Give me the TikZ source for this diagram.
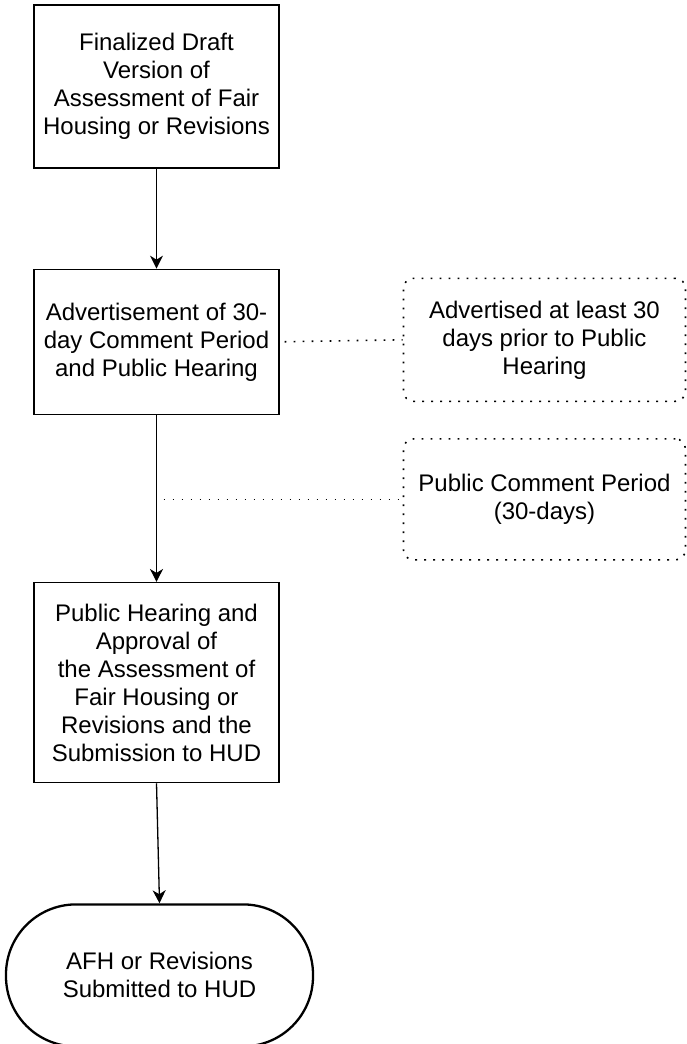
\documentclass[tikz,border=0pt]{standalone}
\usepackage{fontspec}
\setmainfont{Liberation Sans}
\usetikzlibrary{positioning,arrows.meta}

\begin{document}
\begin{tikzpicture}[x=0.5pt,y=0.5pt,
        font=\fontsize{12}{14}\selectfont,
        stepbox/.style={draw,line width=0.65pt,align=center,minimum width=122.5pt,inner sep=0pt},
        notebox/.style={draw,line width=0.8pt,dash pattern=on 0.9pt off 3.6pt,rounded corners=5pt,align=center,minimum width=141pt,inner sep=0pt},
        endbox/.style={draw,line width=1.15pt,rounded corners=35pt,align=center,minimum width=153.5pt,minimum height=71pt,inner sep=0pt},
        flow/.style={-{Stealth[length=6.5pt,width=6.5pt,inset=2pt]},line width=0.65pt},
        link/.style={line width=0.8pt,dash pattern=on 0.9pt off 3.6pt}]
  \useasboundingbox (0,0) rectangle (686,-1044);
  \node[stepbox,minimum height=81.5pt] (draft) at (156.5,-86.5) {Finalized Draft\\Version of\\Assessment of Fair\\Housing or Revisions};
  \node[stepbox,minimum height=72.5pt,below=50pt of draft] (advert) {Advertisement of 30-\\day Comment Period\\and Public Hearing};
  \node[stepbox,minimum height=100pt,below=83.5pt of advert] (hearing) {Public Hearing and\\Approval of\\the Assessment of\\Fair Housing or\\Revisions and the\\Submission to HUD};
  \node[endbox,below=60pt of hearing,xshift=1.5pt] (submit) {AFH or Revisions\\Submitted to HUD};
  \node[notebox,minimum height=61.5pt,right=61.5pt of advert,yshift=1pt] (notice) {Advertised at least 30\\days prior to Public\\Hearing};
  \node[notebox,minimum height=60.5pt,below=18pt of notice] (period) {Public Comment Period\\(30-days)};
  \coordinate (tap) at (advert.south |- period.west);
  \draw[flow] (draft) -- (advert);
  \draw[flow] (advert) -- (hearing);
  \draw[flow] (hearing.south) -- (submit.north);
  \draw[link,shorten <=2.5pt] (advert.east) -- (notice.west);
  \draw[link,shorten <=3.5pt] (tap) -- (period.west);
\end{tikzpicture}
\end{document}
